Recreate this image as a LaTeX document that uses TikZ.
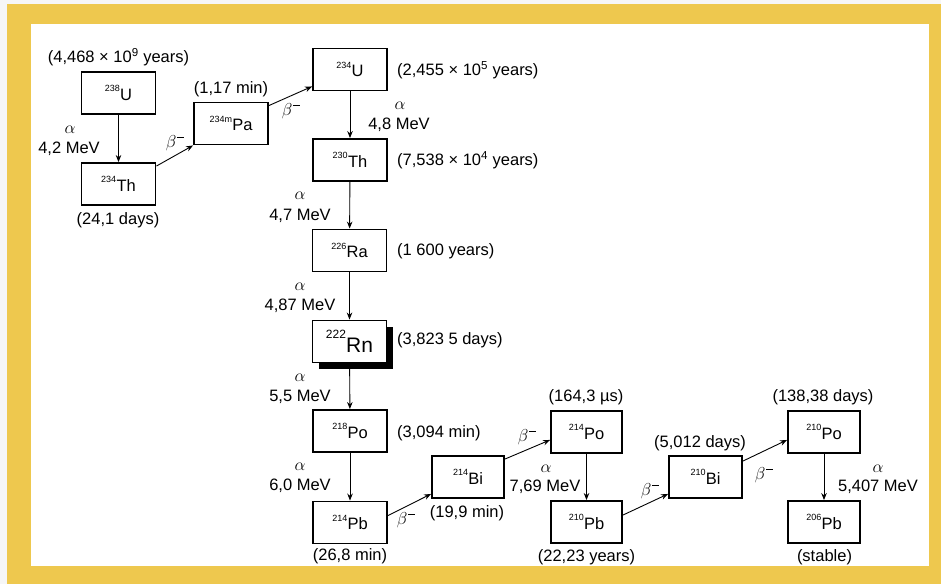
\documentclass[tikz,border=0pt]{standalone}
\usepackage{amsmath}
\usepackage{fontspec}
\setmainfont{Liberation Sans}
\usetikzlibrary{arrows.meta,shadows}
\definecolor{frameyellow}{HTML}{EEC84E}
\definecolor{outergray}{HTML}{F6F6F6}
\newcommand{\iso}[2]{\raisebox{8.5pt}{\fontsize{9}{9}\selectfont #1}\kern0.3pt#2}
\newcommand{\bminus}{$\beta$\kern0.8pt\raisebox{9pt}{\rule{7pt}{1.6pt}}}
\begin{document}
\begin{tikzpicture}[x=1pt,y=-1pt,
  nuc/.style={draw, line width=1.9pt, minimum width=74pt, minimum height=42pt, inner sep=0pt, fill=white, font=\fontsize{16.5}{18}\selectfont},
  lab/.style={inner sep=0pt, font=\fontsize{16.5}{18}\selectfont},
  alab/.style={inner sep=0pt, font=\fontsize{17}{17}\selectfont},
  blab/.style={inner sep=0pt, font=\fontsize{19}{19}\selectfont},
  decay/.style={line width=0.9pt, -{Stealth[length=7pt,width=5.5pt]}}
]
\useasboundingbox (0,0) rectangle (941,584);
\fill[outergray] (0,0) rectangle (941,584);
\fill[frameyellow] (7,4) rectangle (941,584);
\fill[white] (31,24) rectangle (929,566);

% nuclide boxes
\node[nuc] (U238)  at (118.5,93)  {\iso{238}{U}};
\node[nuc] (Th234) at (118.5,184) {\iso{234}{Th}};
\node[nuc] (Pa234) at (231,123.5) {\iso{234m}{Pa}};
\node[nuc] (U234)  at (350,69.5)  {\iso{234}{U}};
\node[nuc] (Th230) at (350,160)   {\iso{230}{Th}};
\node[nuc] (Ra226) at (349.5,250.5) {\iso{226}{Ra}};
\node[nuc, drop shadow={shadow xshift=6.5pt, shadow yshift=-6.5pt, fill=black, opacity=1},
      font=\fontsize{21}{22}\selectfont] (Rn222) at (349.5,341.5)
      {\raisebox{14pt}{\fontsize{12}{12}\selectfont 222}\kern0.3pt Rn};
\node[nuc] (Po218) at (350,431)   {\iso{218}{Po}};
\node[nuc] (Pb214) at (350,522.5) {\iso{214}{Pb}};
\node[nuc, minimum width=72pt] (Bi214) at (468,477)  {\iso{214}{Bi}};
\node[nuc, minimum width=71pt] (Po214) at (586.5,432) {\iso{214}{Po}};
\node[nuc, minimum width=71pt] (Pb210) at (586.5,522) {\iso{210}{Pb}};
\node[nuc, minimum width=73pt] (Bi210) at (705.5,477) {\iso{210}{Bi}};
\node[nuc, minimum width=72pt] (Po210) at (824,432)   {\iso{210}{Po}};
\node[nuc, minimum width=72pt] (Pb206) at (824,522)   {\iso{206}{Pb}};

% alpha decays
\draw[decay] (U238) -- (Th234);
\draw[decay] (U234) -- (Th230);
\draw[decay] (Th230) -- (Ra226);
\draw[decay] (Ra226) -- (Rn222);
\draw[decay] (Rn222) -- (Po218);
\draw[decay] (Po218) -- (Pb214);
\draw[decay] (Po214) -- (Pb210);
\draw[decay] (Po210) -- (Pb206);

% beta decays
\draw[decay] ([yshift=-4pt]Th234.north east) -- (Pa234.south west);
\draw[decay] ([yshift=-4pt]Pa234.north east) -- ([yshift=5pt]U234.south west);
\draw[decay] ([yshift=-15pt]Pb214.north east) -- ([yshift=5pt]Bi214.south west);
\draw[decay] ([yshift=-4pt]Bi214.north east) -- ([yshift=14pt]Po214.south west);
\draw[decay] ([yshift=-15pt]Pb210.north east) -- ([yshift=5pt]Bi210.south west);
\draw[decay] ([yshift=-6pt]Bi210.north east) -- ([yshift=14pt]Po210.south west);

% half-lives
\node[lab] (tU238)  at (118.5,57) {(4,468 × 10\textsuperscript{9} years)};
\node[lab] (tTh234) at (118,220)  {(24,1 days)};
\node[lab] (tPa234) at (231,89)   {(1,17 min)};
\node[lab, anchor=west] (tU234)  at (397,70)  {(2,455 × 10\textsuperscript{5} years)};
\node[lab, anchor=west] (tTh230) at (397,160) {(7,538 × 10\textsuperscript{4} years)};
\node[lab, anchor=west] (tRa226) at (397,251) {(1 600 years)};
\node[lab, anchor=west] (tRn222) at (397,340) {(3,823 5 days)};
\node[lab, anchor=west] (tPo218) at (397,433) {(3,094 min)};
\node[lab] (tPb214) at (350,556)  {(26,8 min)};
\node[lab] (tBi214) at (467,513)  {(19,9 min)};
\node[lab] (tPo214) at (586,397)  {(164,3 µs)};
\node[lab] (tPb210) at (586.5,557) {(22,23 years)};
\node[lab] (tBi210) at (700,443)  {(5,012 days)};
\node[lab] (tPo210) at (823,397)  {(138,38 days)};
\node[lab] (tPb206) at (824.5,557) {(stable)};

% alpha labels
\node[alab] (aU238)  at (70,130)  {$\alpha$};
\node[lab]  (eU238)  at (69,149)  {4,2 MeV};
\node[alab] (aU234)  at (400,106) {$\alpha$};
\node[lab]  (eU234)  at (399,125) {4,8 MeV};
\node[alab] (aTh230) at (300,196) {$\alpha$};
\node[lab]  (eTh230) at (300,216) {4,7 MeV};
\node[alab] (aRa226) at (300,287) {$\alpha$};
\node[lab]  (eRa226) at (300,306) {4,87 MeV};
\node[alab] (aRn222) at (300,378) {$\alpha$};
\node[lab]  (eRn222) at (300,397) {5,5 MeV};
\node[alab] (aPo218) at (300,467) {$\alpha$};
\node[lab]  (ePo218) at (300,486) {6,0 MeV};
\node[alab] (aPo214) at (546,469) {$\alpha$};
\node[lab]  (ePo214) at (545,487) {7,69 MeV};
\node[alab] (aPo210) at (878,469) {$\alpha$};
\node[lab]  (ePo210) at (878,487) {5,407 MeV};

% beta labels
\node[blab] (bTh234) at (175,143) {\bminus};
\node[blab] (bPa234) at (291,111) {\bminus};
\node[blab] (bPb214) at (406,520) {\bminus};
\node[blab] (bBi214) at (527,437) {\bminus};
\node[blab] (bPb210) at (650,491) {\bminus};
\node[blab] (bBi210) at (764,475) {\bminus};
\end{tikzpicture}
\end{document}
